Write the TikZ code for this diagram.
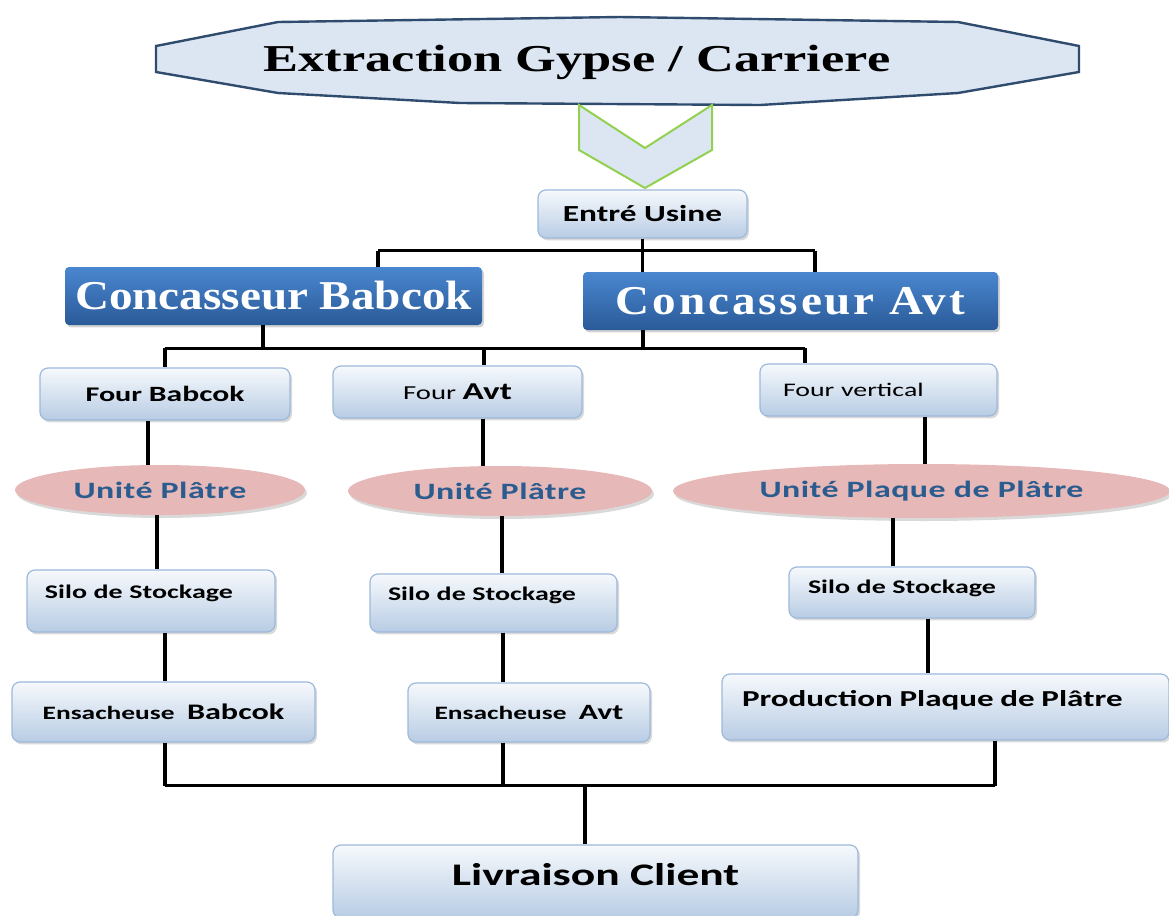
\documentclass[tikz,border=0pt]{standalone}
\usepackage{fontspec}
\setmainfont{Liberation Serif}
\newfontfamily\headfont{Liberation Serif}[FakeStretch=1.38]
\newfontfamily\crushfont{Liberation Serif}[FakeStretch=1.15]
\newfontfamily\boxfont{Carlito}[FakeStretch=1.45]
\usetikzlibrary{shapes.geometric}
\usetikzlibrary{shadows}

\definecolor{quarryfill}{HTML}{DCE6F2}
\definecolor{quarryedge}{HTML}{2F4B6E}
\definecolor{chevedge}{HTML}{92D050}
\definecolor{stagetop}{HTML}{F6F9FC}
\definecolor{stagebot}{HTML}{B8CCE4}
\definecolor{stageedge}{HTML}{9DB9DB}
\definecolor{crushtop}{HTML}{4A87D0}
\definecolor{crushbot}{HTML}{2A5A98}
\definecolor{unitfill}{HTML}{E6B8B7}
\definecolor{unittext}{HTML}{2B5C8F}

\tikzset{
  stage/.style={draw=stageedge, line width=.6pt, rounded corners=4pt,
    top color=stagetop, bottom color=stagebot, inner sep=0pt,
    font=\boxfont\bfseries,
    drop shadow={shadow xshift=1pt, shadow yshift=-1.2pt, opacity=.3}},
  crusher/.style={rounded corners=2pt, top color=crushtop, bottom color=crushbot,
    text=white, inner sep=0pt, font=\crushfont\bfseries,
    drop shadow={shadow xshift=1pt, shadow yshift=-1.2pt, opacity=.35}},
  unit/.style={ellipse, fill=unitfill, text=unittext, inner sep=0pt,
    font=\boxfont\bfseries\addfontfeature{LetterSpace=2},
    drop shadow={shadow xshift=1pt, shadow yshift=-1.5pt, opacity=.3}},
  link/.style={line width=1.55pt}
}

\begin{document}
\begin{tikzpicture}[x=.5pt, y=-.5pt]
  \useasboundingbox (0,0) rectangle (1169,916);
  % quarry and chevron
  \draw[quarryedge, line width=1.2pt, fill=quarryfill]
    (156,46) -- (278,22) -- (620,17) -- (958,22) -- (1079,46)
    -- (1079,72) -- (958,93) -- (760,105) -- (460,103) -- (278,93)
    -- (156,72) -- cycle;
  \node (quarry) at (577,62)
    {\headfont\bfseries\fontsize{19}{22}\selectfont Extraction Gypse / Carriere};
  \draw[chevedge, line width=1pt, fill=quarryfill]
    (579,105) -- (645,148) -- (712,105) -- (712,150) -- (645,188)
    -- (579,150) -- cycle;

  \node[stage, minimum width=104.5pt, minimum height=24pt] (entry) at (642.5,214)
    {\fontsize{11.5}{13}\selectfont Entré Usine};
  \node[crusher, minimum width=208.5pt, minimum height=29pt] (crbab) at (273.5,296)
    {\fontsize{20.5}{23}\selectfont Concasseur Babcok};
  \node[crusher, minimum width=207.5pt, minimum height=29pt] (cravt) at (790.5,301)
    {\fontsize{20.5}{23}\selectfont\addfontfeature{LetterSpace=7}Concasseur Avt};

  \node[stage, minimum width=125pt, minimum height=26pt] (fbab) at (165,394)
    {\fontsize{10.4}{12}\selectfont Four \fontsize{10.9}{12}\selectfont Babcok};
  \node[stage, minimum width=124.5pt, minimum height=26pt] (favt) at (457.5,392)
    {\fontsize{9.9}{12}\selectfont\mdseries Four \fontsize{12.1}{14}\selectfont\bfseries Avt};
  \node[stage, minimum height=26pt, text width=95.5pt, inner xsep=11.5pt, align=left]
    (fver) at (878.5,390) {\fontsize{9.6}{11}\selectfont\mdseries Four vertical};

  \node[unit, minimum width=145pt, minimum height=25pt] (up1) at (160,490)
    {\fontsize{11.7}{13}\selectfont Unité Plâtre};
  \node[unit, minimum width=152pt, minimum height=25pt] (up2) at (500,491)
    {\fontsize{11.7}{13}\selectfont Unité Plâtre};
  \node[unit, minimum width=248.5pt, minimum height=27pt] (up3) at (921.5,491)
    {\fontsize{11.7}{13}\selectfont Unité Plaque de Plâtre};

  \node[stage, minimum height=31pt, text width=106pt, inner xsep=9pt, align=left,
    text depth=9pt] (silo1) at (151,601)
    {\fontsize{9.65}{11}\selectfont Silo de Stockage};
  \node[stage, minimum height=29pt, text width=105.5pt, inner xsep=9pt, align=left,
    text depth=9pt] (silo2) at (493.5,603)
    {\fontsize{9.65}{11}\selectfont Silo de Stockage};
  \node[stage, minimum height=25.5pt, text width=104pt, inner xsep=9.5pt, align=left,
    text depth=6pt] (silo3) at (912,592.5)
    {\fontsize{9.65}{11}\selectfont Silo de Stockage};

  \node[stage, minimum width=151.5pt, minimum height=30pt] (ens1) at (163.5,712)
    {\fontsize{9.45}{11}\selectfont Ensacheuse\ \ \fontsize{11.1}{13}\selectfont Babcok};
  \node[stage, minimum width=121pt, minimum height=29.5pt] (ens2) at (529,712.5)
    {\fontsize{9.45}{11}\selectfont Ensacheuse\ \ \fontsize{10.9}{13}\selectfont Avt};
  \node[stage, minimum height=33pt, text width=203.5pt, inner xsep=10pt, align=left,
    text depth=9pt] (prod) at (945.5,707)
    {\fontsize{11.4}{13}\selectfont Production Plaque de Plâtre};

  \node[stage, minimum width=262.5pt, minimum height=36.5pt, text depth=7pt]
    (livr) at (595.5,881.5) {\fontsize{15.7}{18}\selectfont Livraison Client};

  % entry to crushers
  \path (entry.south) ++(0,12) coordinate (eo);
  \path (crbab.north) ++(104.5,0) coordinate (cbi);
  \path (cravt.north) ++(24.5,0) coordinate (cai);
  \draw[link] (entry.south) -- (entry.south |- cravt.north);
  \draw[link] (cbi |- eo) -- (cai |- eo);
  \draw[link] (cbi |- eo) -- (cbi);
  \draw[link] (cai |- eo) -- (cai);
  % crushers to kilns
  \path (crbab.south) ++(-10.5,0) coordinate (cbo);
  \path (cravt.south) ++(-147.5,0) coordinate (cao);
  \path (cbo) ++(0,23) coordinate (kb);
  \path (favt.north) ++(26.5,0) coordinate (fai);
  \path (fver.north) ++(-73.5,0) coordinate (fvi);
  \draw[link] (cbo) -- (kb);
  \draw[link] (cao) -- (cao |- kb);
  \draw[link] (fbab.north |- kb) -- (fvi |- kb);
  \draw[link] (fbab.north |- kb) -- (fbab.north);
  \draw[link] (fai |- kb) -- (fai);
  \draw[link] (fvi |- kb) -- (fvi);
  % kilns to units
  \path (fbab.south) ++(-17,0) coordinate (fbo);
  \path (favt.south) ++(25.5,0) coordinate (fao);
  \path (fver.south) ++(46.5,0) coordinate (fvo);
  \draw[link] (fbo) -- (fbo |- up1.north);
  \draw[link] (fao) -- (fao |- up2.north);
  \draw[link] (fvo) -- (fvo |- up3.north);
  % units to silos
  \path (up1.south) ++(-3,0) coordinate (u1o);
  \path (up2.south) ++(2,0) coordinate (u2o);
  \path (up3.south) ++(-28.5,0) coordinate (u3o);
  \draw[link] (u1o) -- (u1o |- silo1.north);
  \draw[link] (u2o) -- (u2o |- silo2.north);
  \draw[link] (u3o) -- (u3o |- silo3.north);
  % silos to baggers
  \path (silo1.south) ++(14,0) coordinate (s1o);
  \path (silo2.south) ++(9.5,0) coordinate (s2o);
  \path (silo3.south) ++(16,0) coordinate (s3o);
  \draw[link] (s1o) -- (s1o |- ens1.north);
  \draw[link] (s2o) -- (s2o |- ens2.north);
  \draw[link] (s3o) -- (s3o |- prod.north);
  % baggers to delivery
  \path (ens1.south) ++(1.5,0) coordinate (e1o);
  \path (ens2.south) ++(-26,0) coordinate (e2o);
  \path (prod.south) ++(49.5,0) coordinate (po);
  \path (e1o) ++(0,43) coordinate (db);
  \path (livr.north) ++(-10.5,0) coordinate (li);
  \draw[link] (e1o) -- (db);
  \draw[link] (e2o) -- (e2o |- db);
  \draw[link] (po) -- (po |- db);
  \draw[link] (db) -- (po |- db);
  \draw[link] (li |- db) -- (li);
\end{tikzpicture}
\end{document}
